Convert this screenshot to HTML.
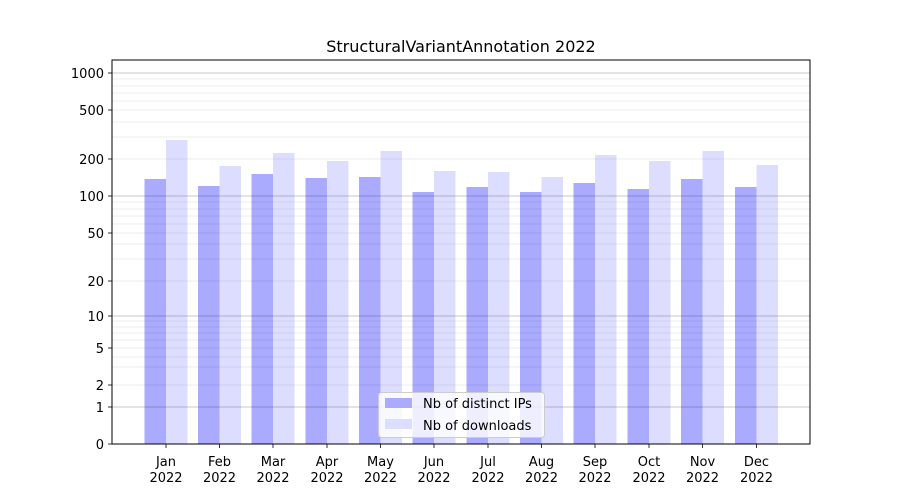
<!DOCTYPE html>
<html><head><meta charset="utf-8"><style>body{margin:0;background:#fff}svg{display:block}text{font-family:"DejaVu Sans","Liberation Sans",sans-serif;fill:#000}</style></head>
<body>
<svg width="900" height="500" viewBox="0 0 900 500" xmlns="http://www.w3.org/2000/svg">
<rect width="900" height="500" fill="#fff"/>
<g>
<rect x="144.5" y="179" width="21.5" height="265" fill="#aaaaff"/><rect x="166" y="140" width="21.5" height="304" fill="#ddddff"/>
<rect x="198" y="186" width="21.5" height="258" fill="#aaaaff"/><rect x="219.5" y="166" width="21.5" height="278" fill="#ddddff"/>
<rect x="251.5" y="174" width="21.5" height="270" fill="#aaaaff"/><rect x="273" y="153" width="21.5" height="291" fill="#ddddff"/>
<rect x="305.5" y="178" width="21.5" height="266" fill="#aaaaff"/><rect x="327" y="161" width="21.5" height="283" fill="#ddddff"/>
<rect x="359" y="177" width="21.5" height="267" fill="#aaaaff"/><rect x="380.5" y="151" width="21.5" height="293" fill="#ddddff"/>
<rect x="412.5" y="192" width="21.5" height="252" fill="#aaaaff"/><rect x="434" y="171" width="21.5" height="273" fill="#ddddff"/>
<rect x="466.5" y="187" width="21.5" height="257" fill="#aaaaff"/><rect x="488" y="172" width="21.5" height="272" fill="#ddddff"/>
<rect x="520" y="192" width="21.5" height="252" fill="#aaaaff"/><rect x="541.5" y="177" width="21.5" height="267" fill="#ddddff"/>
<rect x="573.5" y="183" width="21.5" height="261" fill="#aaaaff"/><rect x="595" y="155" width="21.5" height="289" fill="#ddddff"/>
<rect x="627.5" y="189" width="21.5" height="255" fill="#aaaaff"/><rect x="649" y="161" width="21.5" height="283" fill="#ddddff"/>
<rect x="681" y="179" width="21.5" height="265" fill="#aaaaff"/><rect x="702.5" y="151" width="21.5" height="293" fill="#ddddff"/>
<rect x="735" y="187" width="21.5" height="257" fill="#aaaaff"/><rect x="756.5" y="165" width="21.5" height="279" fill="#ddddff"/>
</g>
<g stroke="#000" stroke-opacity="0.09" stroke-width="0.8">
<line x1="112" x2="810" y1="137" y2="137"/><line x1="112" x2="810" y1="122" y2="122"/><line x1="112" x2="810" y1="101" y2="101"/><line x1="112" x2="810" y1="93" y2="93"/><line x1="112" x2="810" y1="86" y2="86"/><line x1="112" x2="810" y1="79" y2="79"/>
<line x1="112" x2="810" y1="159" y2="159"/><line x1="112" x2="810" y1="110" y2="110"/>
<line x1="112" x2="810" y1="259" y2="259"/><line x1="112" x2="810" y1="244" y2="244"/><line x1="112" x2="810" y1="224" y2="224"/><line x1="112" x2="810" y1="216" y2="216"/><line x1="112" x2="810" y1="209" y2="209"/><line x1="112" x2="810" y1="202" y2="202"/>
<line x1="112" x2="810" y1="281" y2="281"/><line x1="112" x2="810" y1="233" y2="233"/>
<line x1="112" x2="810" y1="367" y2="367"/><line x1="112" x2="810" y1="357" y2="357"/><line x1="112" x2="810" y1="340" y2="340"/><line x1="112" x2="810" y1="333" y2="333"/><line x1="112" x2="810" y1="327" y2="327"/><line x1="112" x2="810" y1="321" y2="321"/>
<line x1="112" x2="810" y1="385" y2="385"/><line x1="112" x2="810" y1="348" y2="348"/>
</g>
<g stroke="#000" stroke-opacity="0.28" stroke-width="0.8">
<line x1="112" x2="810" y1="73" y2="73"/><line x1="112" x2="810" y1="196" y2="196"/><line x1="112" x2="810" y1="316" y2="316"/><line x1="112" x2="810" y1="407" y2="407"/>
</g>
<rect x="112" y="60" width="698" height="384" fill="none" stroke="#000" stroke-width="1"/>
<g stroke="#000" stroke-width="0.8">
<line x1="108" x2="112" y1="73" y2="73"/><line x1="108" x2="112" y1="110" y2="110"/><line x1="108" x2="112" y1="159" y2="159"/><line x1="108" x2="112" y1="196" y2="196"/><line x1="108" x2="112" y1="233" y2="233"/><line x1="108" x2="112" y1="281" y2="281"/><line x1="108" x2="112" y1="316" y2="316"/><line x1="108" x2="112" y1="348" y2="348"/><line x1="108" x2="112" y1="385" y2="385"/><line x1="108" x2="112" y1="407" y2="407"/><line x1="108" x2="112" y1="444" y2="444"/>
</g>
<g font-size="13" text-anchor="end">
<text x="104" y="78">1000</text><text x="104" y="115">500</text><text x="104" y="164">200</text><text x="104" y="201">100</text><text x="104" y="238">50</text><text x="104" y="286">20</text><text x="104" y="321">10</text><text x="104" y="353">5</text><text x="104" y="390">2</text><text x="104" y="412">1</text><text x="104" y="449">0</text>
</g>
<g stroke="#000" stroke-width="0.8">
<line x1="166" x2="166" y1="444" y2="448"/><line x1="219.5" x2="219.5" y1="444" y2="448"/><line x1="273" x2="273" y1="444" y2="448"/><line x1="327" x2="327" y1="444" y2="448"/><line x1="380.5" x2="380.5" y1="444" y2="448"/><line x1="434" x2="434" y1="444" y2="448"/><line x1="488" x2="488" y1="444" y2="448"/><line x1="541.5" x2="541.5" y1="444" y2="448"/><line x1="595" x2="595" y1="444" y2="448"/><line x1="649" x2="649" y1="444" y2="448"/><line x1="702.5" x2="702.5" y1="444" y2="448"/><line x1="756.5" x2="756.5" y1="444" y2="448"/>
</g>
<g font-size="13" text-anchor="middle">
<text x="166" y="466">Jan</text><text x="166" y="482">2022</text>
<text x="219.5" y="466">Feb</text><text x="219.5" y="482">2022</text>
<text x="273" y="466">Mar</text><text x="273" y="482">2022</text>
<text x="327" y="466">Apr</text><text x="327" y="482">2022</text>
<text x="380.5" y="466">May</text><text x="380.5" y="482">2022</text>
<text x="434" y="466">Jun</text><text x="434" y="482">2022</text>
<text x="488" y="466">Jul</text><text x="488" y="482">2022</text>
<text x="541.5" y="466">Aug</text><text x="541.5" y="482">2022</text>
<text x="595" y="466">Sep</text><text x="595" y="482">2022</text>
<text x="649" y="466">Oct</text><text x="649" y="482">2022</text>
<text x="702.5" y="466">Nov</text><text x="702.5" y="482">2022</text>
<text x="756.5" y="466">Dec</text><text x="756.5" y="482">2022</text>
</g>
<text x="461" y="52" font-size="16" text-anchor="middle">StructuralVariantAnnotation 2022</text>
<rect x="378.5" y="392.5" width="166" height="45" rx="3" fill="#fff" fill-opacity="0.8" stroke="#cccccc"/>
<rect x="385" y="398" width="27" height="10" fill="#aaaaff"/>
<rect x="385" y="419" width="27" height="10" fill="#ddddff"/>
<text x="423" y="408" font-size="13">Nb of distinct IPs</text>
<text x="423" y="430" font-size="13">Nb of downloads</text>
</svg>
</body></html>
